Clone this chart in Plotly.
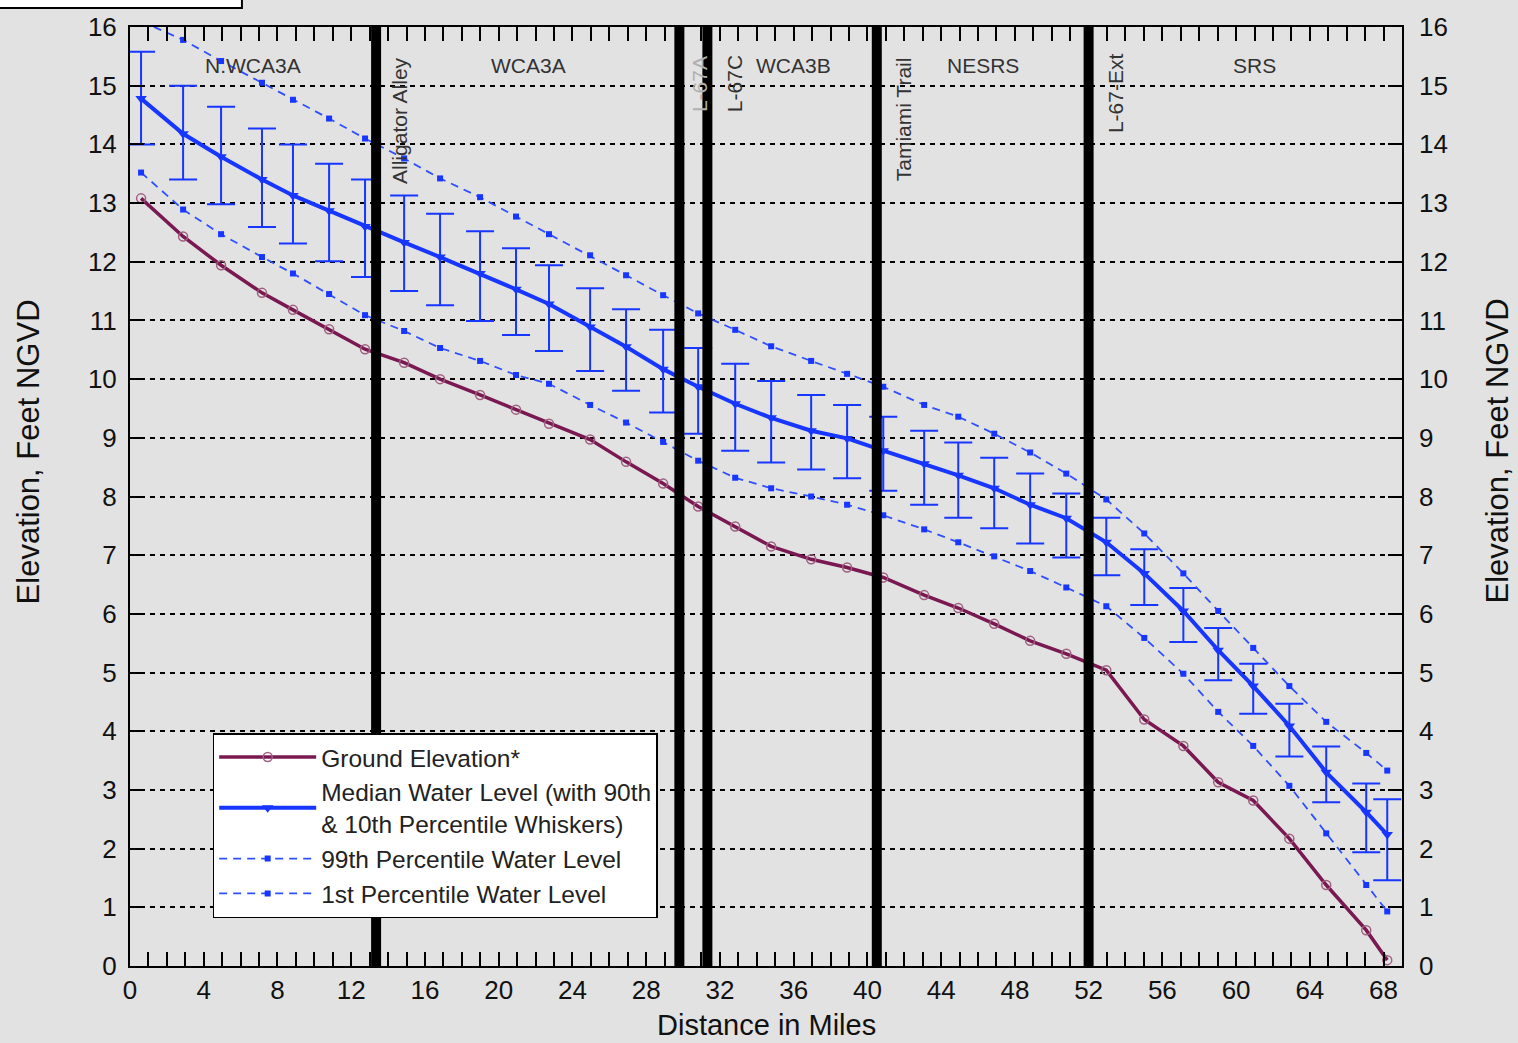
import plotly.graph_objects as go

# ---------------- data ----------------
miles = [0.60, 2.88, 4.94, 7.16, 8.84, 10.80, 12.75, 14.87, 16.82, 18.99, 20.94, 22.73,
         24.96, 26.91, 28.92, 30.82, 32.83, 34.78, 36.95, 38.90, 40.86, 43.08, 44.93,
         46.88, 48.83, 50.79, 52.96, 55.02, 57.14, 59.03, 60.93, 62.89, 64.89, 67.06, 68.20]

ground = [13.08, 12.43, 11.94, 11.47, 11.18, 10.85, 10.51, 10.28, 10.00, 9.73, 9.48, 9.24,
          8.97, 8.59, 8.22, 7.83, 7.49, 7.15, 6.93, 6.79, 6.62, 6.32, 6.10,
          5.83, 5.54, 5.32, 5.04, 4.20, 3.75, 3.13, 2.82, 2.17, 1.38, 0.61, 0.10]

median = [14.78, 14.18, 13.79, 13.40, 13.13, 12.87, 12.60, 12.33, 12.08, 11.80, 11.53, 11.28,
          10.89, 10.55, 10.17, 9.87, 9.58, 9.34, 9.12, 8.99, 8.78, 8.56, 8.36,
          8.14, 7.86, 7.63, 7.22, 6.69, 6.05, 5.38, 4.77, 4.09, 3.30, 2.62, 2.24]

p90 = [15.58, 15.00, 14.64, 14.27, 14.00, 13.67, 13.40, 13.13, 12.82, 12.52, 12.23, 11.94,
       11.55, 11.19, 10.84, 10.53, 10.26, 9.97, 9.73, 9.56, 9.36, 9.12, 8.92,
       8.66, 8.39, 8.05, 7.64, 7.10, 6.44, 5.76, 5.15, 4.47, 3.74, 3.11, 2.84]

p10 = [14.00, 13.40, 12.98, 12.59, 12.31, 12.01, 11.74, 11.50, 11.26, 10.99, 10.75, 10.48,
       10.14, 9.80, 9.43, 9.07, 8.78, 8.58, 8.46, 8.31, 8.10, 7.86, 7.64,
       7.46, 7.20, 6.96, 6.66, 6.15, 5.52, 4.87, 4.30, 3.57, 2.79, 1.94, 1.46]

p99 = [16.10, 15.78, 15.42, 15.05, 14.76, 14.44, 14.10, 13.76, 13.42, 13.10, 12.77, 12.47,
       12.11, 11.77, 11.43, 11.12, 10.84, 10.56, 10.31, 10.09, 9.87, 9.56, 9.36,
       9.07, 8.75, 8.39, 7.95, 7.37, 6.69, 6.05, 5.42, 4.77, 4.16, 3.63, 3.33]

p01 = [13.52, 12.89, 12.47, 12.08, 11.80, 11.45, 11.09, 10.82, 10.53, 10.31, 10.07, 9.92,
       9.56, 9.26, 8.93, 8.61, 8.32, 8.14, 8.00, 7.86, 7.68, 7.44, 7.22,
       6.98, 6.73, 6.45, 6.13, 5.59, 4.98, 4.33, 3.75, 3.07, 2.26, 1.38, 0.93]

# structures (vertical black lines), miles
structures = [13.35, 29.80, 31.32, 40.51, 52.00]

# region labels: (text, mile, elevation)
regions = [("N.WCA3A", 6.67, 15.35), ("WCA3A", 21.6, 15.35), ("WCA3B", 35.97, 15.35),
           ("NESRS", 46.28, 15.35), ("SRS", 60.99, 15.35)]
# rotated structure labels: (text, mile, elevation center)
struct_labels = [("Alligator Alley", 14.65, 14.40), ("L-67A", 30.93, 15.03),
                 ("L-67C", 32.83, 15.03), ("Tamiami Trail", 41.94, 14.43),
                 ("L-67-Ext", 53.45, 14.88)]

x_ticks = list(range(0, 69, 4))
y_ticks = list(range(0, 17))

# ---------------- styles ----------------
BG = "#e2e2e2"
BLUE = "#1736ff"
BLUE_D = "#3050ff"
MAROON = "#7a1852"
FONT = "Liberation Sans, Arial, sans-serif"

fig = go.Figure()

fig.add_trace(go.Scatter(
    x=miles, y=ground, name="Ground Elevation*", mode="lines+markers",
    line=dict(color=MAROON, width=3.5),
    marker=dict(symbol="circle-open", size=9, color="#a06080", line=dict(width=1.5)),
))
fig.add_trace(go.Scatter(
    x=miles, y=median,
    name="Median Water Level (with 90th<br>& 10th Percentile Whiskers)",
    mode="lines+markers",
    line=dict(color=BLUE, width=4),
    marker=dict(symbol="triangle-down", size=10, color=BLUE),
    error_y=dict(type="data", symmetric=False,
                 array=[h - m for h, m in zip(p90, median)],
                 arrayminus=[m - l for m, l in zip(median, p10)],
                 color=BLUE, thickness=2, width=14),
))
fig.add_trace(go.Scatter(
    x=miles, y=p99, name="99th Percentile Water Level", mode="lines+markers",
    line=dict(color=BLUE_D, width=1.8, dash="8px,6px"),
    marker=dict(symbol="square", size=6, color=BLUE),
))
fig.add_trace(go.Scatter(
    x=miles, y=p01, name="1st Percentile Water Level", mode="lines+markers",
    line=dict(color=BLUE_D, width=1.8, dash="8px,6px"),
    marker=dict(symbol="square", size=6, color=BLUE),
))
# invisible trace to carry the right-hand axis
fig.add_trace(go.Scatter(x=miles, y=median, yaxis="y2", mode="lines",
                         line=dict(width=0), opacity=0, showlegend=False,
                         hoverinfo="skip"))

for s in structures:
    fig.add_shape(type="line", xref="x", yref="y", x0=s, x1=s, y0=0, y1=16,
                  line=dict(color="black", width=10), layer="above")

for txt, xm, ye in regions:
    fig.add_annotation(x=xm, y=ye, xref="x", yref="y", text=txt, showarrow=False,
                       font=dict(size=21, color="#333333", family=FONT),
                       xanchor="center", yanchor="middle")
for txt, xm, ye in struct_labels:
    fig.add_annotation(x=xm, y=ye, xref="x", yref="y", text=txt, showarrow=False,
                       textangle=-90,
                       font=dict(size=21, color="#b0b0b0" if txt == "L-67A" else "#333333",
                                 family=FONT),
                       xanchor="center", yanchor="middle")

# axis titles
fig.add_annotation(x=-0.0802, y=0.548, xref="paper", yref="paper",
                   text="Elevation, Feet NGVD", textangle=-90, showarrow=False,
                   font=dict(size=31, color="#111111", family=FONT),
                   xanchor="center", yanchor="middle")
fig.add_annotation(x=1.0747, y=0.548, xref="paper", yref="paper",
                   text="Elevation, Feet NGVD", textangle=-90, showarrow=False,
                   font=dict(size=31, color="#111111", family=FONT),
                   xanchor="center", yanchor="middle")
fig.add_annotation(x=0.5, y=-0.063, xref="paper", yref="paper",
                   text="Distance in Miles", showarrow=False,
                   font=dict(size=29, color="#111111", family=FONT),
                   xanchor="center", yanchor="middle")

# cut-off box at top left of the page
fig.add_shape(type="rect", xref="paper", yref="paper", x0=-0.11, x1=0.088,
              y0=1.0202, y1=1.06, line=dict(color="black", width=2),
              fillcolor="white", layer="above")

axis_common = dict(showline=True, linecolor="black", linewidth=2, mirror="allticks",
                   ticks="inside", ticklen=14, tickwidth=2, tickcolor="black",
                   tickfont=dict(size=26, color="#111111", family=FONT), zeroline=False)

fig.update_layout(
    width=1518, height=1043, autosize=False,
    margin=dict(l=130, r=116, t=24, b=77, pad=0),
    paper_bgcolor=BG, plot_bgcolor=BG,
    font=dict(family=FONT, color="#111111"),
    xaxis=dict(range=[0, 69], tickvals=x_ticks, showgrid=False,
               minor=dict(dtick=1, tick0=0, ticks="inside", ticklen=14, tickwidth=2,
                          tickcolor="black", showgrid=False),
               **axis_common),
    yaxis=dict(range=[0, 16], tickvals=y_ticks, showgrid=True, gridcolor="black",
               gridwidth=2, griddash="5px,5px", ticklabelstandoff=6, **axis_common),
    yaxis2=dict(range=[0, 16], tickvals=y_ticks, overlaying="y", side="right",
                showgrid=False, showline=False, ticks="inside", ticklen=14,
                tickwidth=2, tickcolor="black", ticklabelstandoff=16,
                tickfont=dict(size=26, color="#111111", family=FONT), zeroline=False),
    legend=dict(x=0.065, y=0.248, xanchor="left", yanchor="top",
                bgcolor="white", bordercolor="black", borderwidth=1.5,
                font=dict(size=24.5, color="#222222", family=FONT),
                itemwidth=97, tracegroupgap=0),
    showlegend=True,
)

fig.write_html("out.html", config={"displayModeBar": False},
               post_script="document.body.style.margin='0';")
